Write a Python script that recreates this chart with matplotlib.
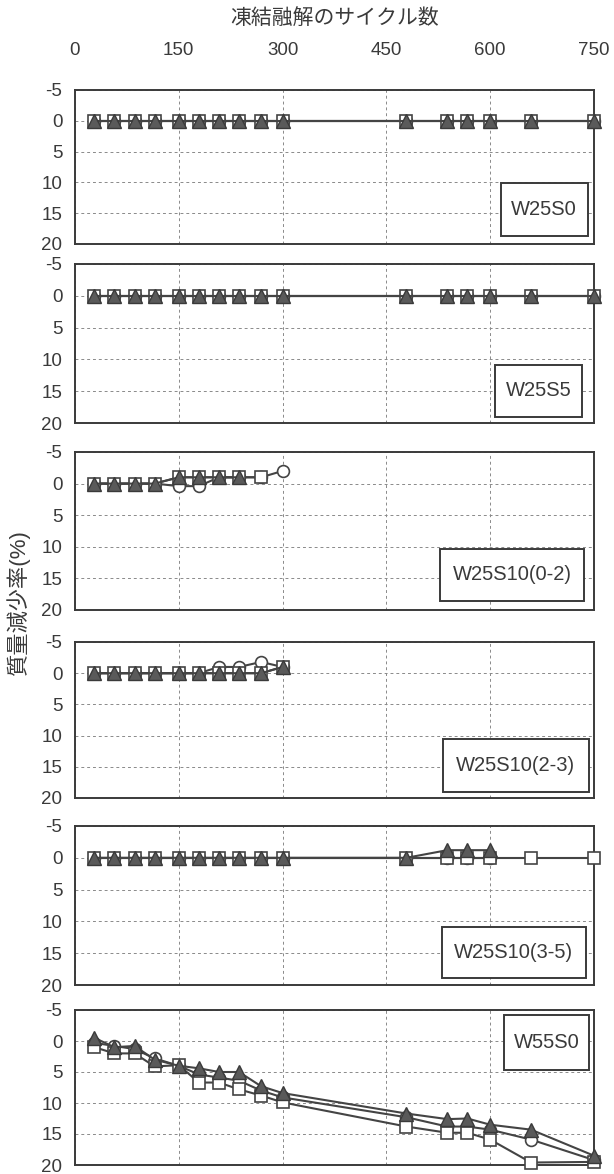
import matplotlib.pyplot as plt

plt.rcParams['font.family'] = ['Liberation Sans', 'Noto Sans CJK JP']
plt.rcParams['axes.unicode_minus'] = False

# 凍結融解サイクル数
cycles = [28, 57, 86, 115, 150, 179, 208, 237, 269, 300, 479, 538, 567, 600, 659, 750]

names = ['W25S0', 'W25S5', 'W25S10(0-2)', 'W25S10(2-3)', 'W25S10(3-5)', 'W55S0']

# 質量減少率(%)  ○ / □ / ▲
circ1 = [0] * 16
sq1 = [0] * 16
tri1 = [0] * 16

circ2 = [0] * 16
sq2 = [0] * 16
tri2 = [0] * 16

circ3 = [0, 0, 0, 0, 0.4, 0.4, -1, -1, -1, -2]
sq3 = [0, 0, 0, 0, -1, -1, -1, -1, -1]
tri3 = [0, 0, 0, 0, -1, -1, -1, -1]

circ4 = [0, 0, 0, 0, 0, 0, -1, -1, -1.8, -1]
sq4 = [0, 0, 0, 0, 0, 0, 0, 0, 0, -1]
tri4 = [0, 0, 0, 0, 0, 0, 0, 0, 0, -1]

circ5 = [0] * 14
sq5 = [0] * 16
tri5 = [0] * 11 + [-1.2, -1.2, -1.2]

circ6 = [0.3, 0.8, 1.3, 2.8, 4.0, 5.4, 5.9, 6.4, 8.0, 9.1, 12.3, 13.8, 13.8, 14.3, 15.9, 19.2]
sq6 = [1.0, 2.0, 2.0, 4.1, 3.9, 6.7, 6.7, 7.8, 8.8, 9.9, 13.8, 14.8, 14.8, 15.9, 19.6, 19.5]
tri6 = [-0.5, 1.0, 0.8, 3.0, 4.0, 4.4, 5.0, 5.0, 7.3, 8.4, 11.7, 12.6, 12.5, 13.5, 14.3, 18.5]

panels = [
    (circ1, sq1, tri1),
    (circ2, sq2, tri2),
    (circ3, sq3, tri3),
    (circ4, sq4, tri4),
    (circ5, sq5, tri5),
    (circ6, sq6, tri6),
]

W, H = 614, 1174
fig = plt.figure(figsize=(W / 100, H / 100), dpi=100)

ink = '#3a3a3a'
line_c = '#444444'
left, right = 75, 594
# 各パネルの上端・下端 (px)
rows = [(90, 244), (264, 423), (452, 610), (642, 798), (826, 985), (1010, 1165)]
# ラベル枠 (x0, x1 は軸比率, y は値)
boxes = [(0.82, 0.988, 10.1, 18.7), (0.809, 0.977, 10.9, 19.0),
         (0.703, 0.981, 10.3, 18.6), (0.709, 0.99, 10.5, 19.0),
         (0.707, 0.984, 10.9, 18.9), (0.827, 0.99, -4.2, 4.7)]

for i, ((top, bot), (c, s, t), name, bx) in enumerate(zip(rows, panels, names, boxes)):
    ax = fig.add_axes([left / W, 1 - bot / H, (right - left) / W, (bot - top) / H])
    ax.set_xlim(0, 750)
    ax.set_ylim(20, -5)
    ax.set_xticks([0, 150, 300, 450, 600, 750])
    ax.set_yticks([-5, 0, 5, 10, 15, 20])
    ax.grid(True, color='#8a8a8a', linestyle=(0, (3, 3)), linewidth=0.7)
    for sp in ax.spines.values():
        sp.set_color(ink)
        sp.set_linewidth(1.4)
    ax.tick_params(axis='y', length=0, pad=9, labelsize=13.5, labelcolor=ink)
    if i == 0:
        ax.xaxis.tick_top()
        ax.tick_params(axis='x', length=0, pad=22, labelsize=13.5, labelcolor=ink)
        ax.set_xlabel('凍結融解のサイクル数', fontsize=15, color=ink, labelpad=13)
        ax.xaxis.set_label_position('top')
    else:
        ax.tick_params(axis='x', length=0, labeltop=False, labelbottom=False)

    ax.plot(cycles[:len(c)], c, '-', color=line_c, lw=1.5, marker='o', ms=8.5,
            mfc='white', mec=line_c, mew=1.2, clip_on=False, zorder=3)
    ax.plot(cycles[:len(s)], s, '-', color=line_c, lw=1.5, marker='s', ms=8.5,
            mfc='white', mec=line_c, mew=1.2, clip_on=False, zorder=4)
    ax.plot(cycles[:len(t)], t, '-', color=line_c, lw=1.5, marker='^', ms=9.5,
            mfc='#5a5a5a', mec='#3a3a3a', mew=1.0, clip_on=False, zorder=5)

    x0, x1, y0, y1 = bx
    ax.add_patch(plt.Rectangle((x0 * 750, y0), (x1 - x0) * 750, y1 - y0,
                               facecolor='white', edgecolor=ink, lw=1.4, zorder=6))
    ax.text((x0 + x1) / 2 * 750, (y0 + y1) / 2, name, ha='center', va='center',
            fontsize=14.5, color=ink, zorder=7)

fig.text(18 / W, 1 - 602 / H, '質量減少率(%)', rotation=90, ha='center', va='center',
         fontsize=16, color=ink)

fig.savefig('out.png', dpi=100)
